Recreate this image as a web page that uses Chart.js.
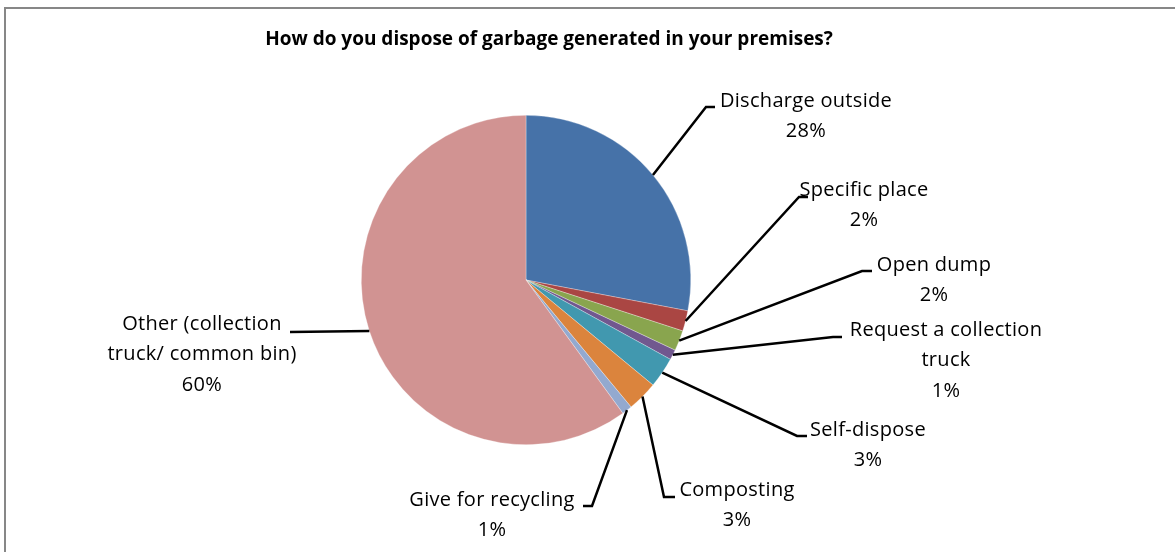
<!DOCTYPE html>
<html lang="en">
<head>
  <meta charset="UTF-8">
  <title>Garbage disposal</title>
  <script src="https://cdn.jsdelivr.net/npm/chart.js"></script>
  <style>
    html, body { margin: 0; padding: 0; background: #fff; }
    #wrap { width: 1175px; height: 552px; }
  </style>
</head>
<body>
  <div id="wrap">
    <canvas id="myChart" width="1175" height="552"></canvas>
  </div>

  <script>
    const chartTitle = 'How do you dispose of garbage generated in your premises?'
    const categories = ['Discharge outside', 'Specific place', 'Open dump', 'Request a collection truck',
      'Self-dispose', 'Composting', 'Give for recycling', 'Other (collection truck/ common bin)']
    const percents = [28, 2, 2, 1, 3, 3, 1, 60]
    const sliceColors = ['#4672A8', '#AA4643', '#89A54E', '#71588F', '#4198AF', '#DB843D', '#93A9CF', '#D19392']

    // label text as it wraps in the picture
    const labelLines = [['Discharge outside'], ['Specific place'], ['Open dump'], ['Request a collection', 'truck'],
      ['Self-dispose'], ['Composting'], ['Give for recycling'], ['Other (collection', 'truck/ common bin)']]

    // where each callout sits: text centre + first line, leader elbow and tail end
    const labelSpots = [
      { x: 806, y: 101, elbow: [706, 107], end: [715, 107] },
      { x: 864, y: 190, elbow: [799, 197], end: [808, 197] },
      { x: 934, y: 265, elbow: [862, 271], end: [872, 271] },
      { x: 946, y: 330, elbow: [833, 337], end: [842, 337] },
      { x: 868, y: 430, elbow: [797, 436], end: [807, 436] },
      { x: 737, y: 490, elbow: [664, 497], end: [675, 497] },
      { x: 492, y: 500, elbow: [592, 506], end: [583, 506] },
      { x: 202, y: 324, elbow: [290, 332], end: [290, 332] }
    ]

    const frame = {
      id: 'frame',
      beforeDraw(chart) {
        const ctx = chart.ctx
        ctx.save()
        ctx.fillStyle = '#fff'
        ctx.fillRect(0, 0, chart.width, chart.height)
        ctx.strokeStyle = '#878787'
        ctx.lineWidth = 2
        ctx.beginPath()
        ctx.moveTo(5, chart.height)
        ctx.lineTo(5, 8)
        ctx.lineTo(chart.width, 8)
        ctx.stroke()
        ctx.fillStyle = '#000'
        ctx.font = 'bold 19px "Open Sans"'
        ctx.textAlign = 'center'
        ctx.textBaseline = 'middle'
        ctx.fillText(chartTitle, 549, 40, 573)
        ctx.restore()
      }
    }

    const callouts = {
      id: 'callouts',
      afterDatasetsDraw(chart) {
        const ctx = chart.ctx
        const arcs = chart.getDatasetMeta(0).data
        ctx.save()
        ctx.strokeStyle = '#000'
        ctx.lineWidth = 2.5
        ctx.fillStyle = '#000'
        ctx.font = '20px "Open Sans"'
        ctx.letterSpacing = '0.3px'
        ctx.textAlign = 'center'
        ctx.textBaseline = 'middle'
        arcs.forEach((arc, i) => {
          const p = arc.getProps(['x', 'y', 'startAngle', 'endAngle', 'outerRadius'], true)
          const mid = (p.startAngle + p.endAngle) / 2
          const sx = p.x + Math.cos(mid) * p.outerRadius
          const sy = p.y + Math.sin(mid) * p.outerRadius
          const spot = labelSpots[i]
          ctx.beginPath()
          ctx.moveTo(sx, sy)
          ctx.lineTo(spot.elbow[0], spot.elbow[1])
          ctx.lineTo(spot.end[0], spot.end[1])
          ctx.stroke()
          const lines = labelLines[i].concat([percents[i] + '%'])
          lines.forEach((t, k) => ctx.fillText(t, spot.x, spot.y + k * 30.5))
        })
        ctx.restore()
      }
    }

    const ctx = document.getElementById('myChart')
    const myChart = new Chart(ctx, {
      type: 'pie',
      data: {
        labels: categories,
        datasets: [{
          data: percents,
          backgroundColor: sliceColors,
          borderColor: 'rgba(255,255,255,0.6)',
          borderWidth: 0.5
        }]
      },
      options: {
        responsive: false,
        animation: false,
        layout: { padding: { left: 361, right: 484, top: 115, bottom: 107 } },
        plugins: {
          legend: { display: false },
          tooltip: { enabled: false }
        }
      },
      plugins: [frame, callouts]
    })
  </script>
</body>
</html>
